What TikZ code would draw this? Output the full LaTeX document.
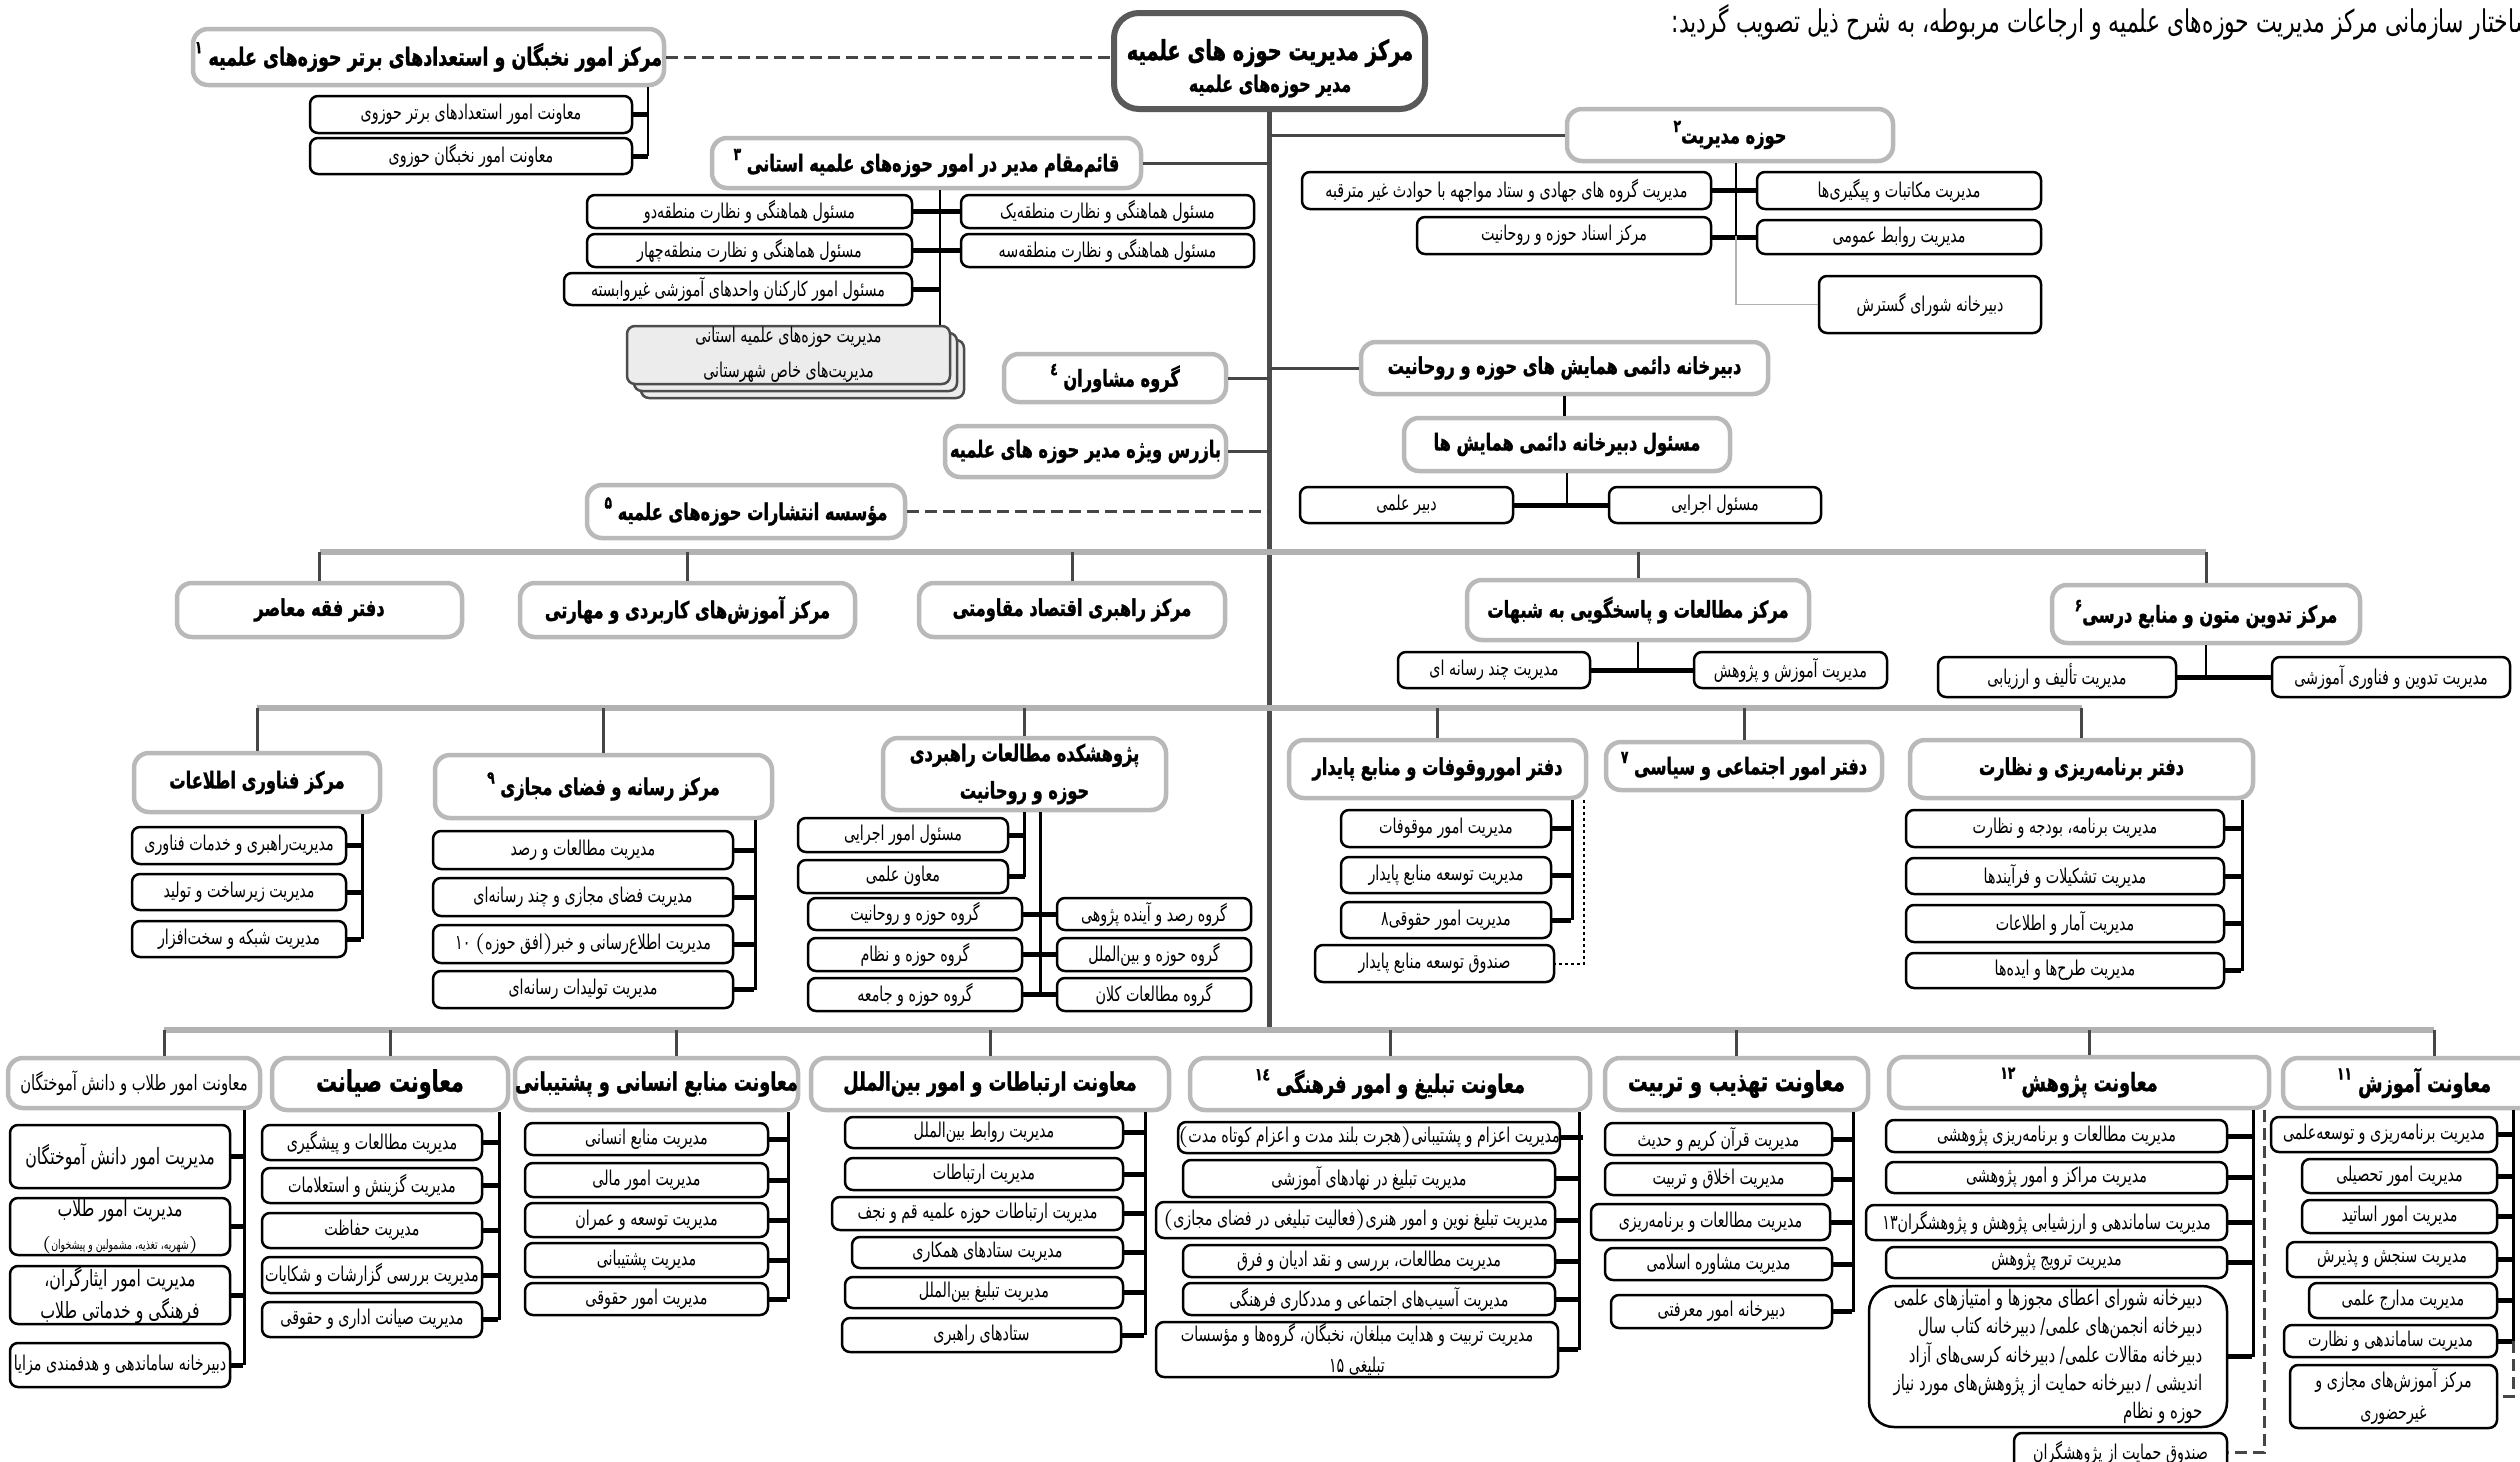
\documentclass[tikz,border=0pt]{standalone}
\usepackage{fontspec}
\newfontfamily\fa[Script=Arabic,FakeStretch=0.7,BoldFeatures={FakeBold=1.2}]{DejaVu Sans}
\TeXXeTstate=1
\newcommand{\rl}[1]{\beginR#1\endR}
\newcommand{\fn}[1]{\raisebox{0.9ex}{\fontsize{5}{5}\selectfont#1}}

\tikzset{
  span/.style args={#1/#2/#3/#4}{minimum width={(#3-#1)*0.1mm}, minimum height={(#4-#2)*0.1mm}, at={({(#1+#3)/2},{(#2+#4)/2})}},
  hub/.style={draw=gray!70!black, line width=0.6mm, rounded corners=2.5mm, fill=white, inner sep=0pt, align=center},
  head/.style={draw=gray!55, line width=0.45mm, rounded corners=1.5mm, fill=white, inner sep=0pt, align=center, font=\fa\bfseries\fontsize{6.6}{7.8}\selectfont},
  head3/.style={head, font=\fa\bfseries\fontsize{7.2}{8.5}\selectfont},
  unit/.style={draw=black, line width=0.25mm, rounded corners=0.8mm, fill=white, inner sep=0pt, align=center, font=\fa\fontsize{5.8}{7}\selectfont},
  stack/.style={unit, fill=gray!15, draw=gray!60!black},
  spine/.style={draw=gray!60!black, line width=0.45mm},
  bar/.style={draw=gray!60, line width=0.6mm},
  stem/.style={draw=gray!55!black, line width=0.3mm},
  bus/.style={draw=black, line width=0.25mm},
  tick/.style={draw=black, line width=0.5mm},
  link/.style={draw=gray!55!black, line width=0.3mm, dash pattern=on 1.2mm off 0.6mm},
  dots/.style={draw=black, line width=0.2mm, dash pattern=on 0.3mm off 0.3mm}
}

\begin{document}
\begin{tikzpicture}[x=0.1mm,y=-0.1mm]
		%%%%% START %%%%%
		\path[use as bounding box, fill=white] (0,0) rectangle (2520,1462);
		\clip (0,0) rectangle (2520,1462);
		
		\node[anchor=east, inner sep=0pt, font=\fa\fontsize{8.9}{10}\selectfont] (title) at (2534,22) {\rl{ساختار سازمانی مرکز مدیریت حوزه‌های علمیه و ارجاعات مربوطه\kern0pt، به شرح ذیل تصویب گردید\kern0pt:}};
		
		\node[hub, span=1114/13/1425/109] (markaz) {};
		\node[inner sep=0pt, font=\fa\bfseries\fontsize{7.9}{9}\selectfont] (markazT1) at (1270,53) {\rl{مرکز مدیریت حوزه های علمیه}};
		\node[inner sep=0pt, font=\fa\bfseries\fontsize{6.5}{8}\selectfont] (markazT2) at (1270,86) {\rl{مدیر حوزه‌های علمیه}};
		
		\coordinate (barA) at (0,552);
		\coordinate (barB) at (0,708);
		\coordinate (barC) at (0,1030);
		\coordinate (busN) at (648,0);
		\coordinate (busH) at (1736,0);
		\coordinate (busQ) at (940,0);
		
		% top left
		\node[head, span=193/29/664/85, font=\fa\bfseries\fontsize{7.1}{8}\selectfont] (nokhbegan) {\rl{مرکز امور نخبگان و استعدادهای برتر حوزه‌های علمیه \fn{۱}}};
		\node[unit, span=310/96/632/133] (estedad) {\rl{معاونت امور استعدادهای برتر حوزوی}};
		\node[unit, span=310/138/632/174] (nokhbHoz) {\rl{معاونت امور نخبگان حوزوی}};
		
		\node[head, span=712/138/1141/188] (qaem) {\rl{قائم‌مقام مدیر در امور حوزه‌های علمیه استانی \fn{۳}}};
		\node[unit, span=961/195/1254/228] (mantaqe1) {\rl{مسئول هماهنگی و نظارت منطقه‌یک}};
		\node[unit, span=961/234/1254/267] (mantaqe3) {\rl{مسئول هماهنگی و نظارت منطقه‌سه}};
		\node[unit, span=587/195/912/228] (mantaqe2) {\rl{مسئول هماهنگی و نظارت منطقه‌دو}};
		\node[unit, span=587/234/912/267] (mantaqe4) {\rl{مسئول هماهنگی و نظارت منطقه‌چهار}};
		\node[unit, span=564/273/912/305] (karkonan) {\rl{مسئول امور کارکنان واحدهای آموزشی غیروابسته}};
		\node[stack, span=641/340/964/398] (ostani3) {};
		\node[stack, span=634/333/957/391] (ostani2) {};
		\node[stack, span=627/326/950/384] (ostani) {\rl{مدیریت حوزه‌های علمیه استانی}\\[1mm]\rl{مدیریت‌های خاص شهرستانی}};
		
		\node[head, span=1004/354/1226/402] (moshaveran) {\rl{گروه مشاوران \fn{٤}}};
		\node[head, span=945/426/1226/477] (bazras) {\rl{بازرس ویژه مدیر حوزه های علمیه}};
		\node[head, span=587/485/905/538] (entesharat) {\rl{مؤسسه انتشارات حوزه‌های علمیه \fn{۵}}};
		
		% top right
		\node[head, span=1567/109/1893/161] (hozeh) {\rl{حوزه مدیریت\fn{۲}}};
		\node[unit, span=1757/172/2041/209] (makatebat) {\rl{مدیریت مکاتبات و پیگیری‌ها}};
		\node[unit, span=1757/220/2041/254] (ravabet) {\rl{مدیریت روابط عمومی}};
		\node[unit, span=1302/172/1711/209] (jahadi) {\rl{مدیریت گروه های جهادی و ستاد مواجهه با حوادث غیر مترقبه}};
		\node[unit, span=1417/217/1711/254] (asnad) {\rl{مرکز اسناد حوزه و روحانیت}};
		\node[unit, span=1819/276/2041/333] (gostaresh) {\rl{دبیرخانه شورای گسترش}};
		
		\node[head, span=1361/342/1768/394] (hamayesh) {\rl{دبیرخانه دائمی همایش های حوزه و روحانیت}};
		\node[head, span=1404/418/1730/471] (masoulHam) {\rl{مسئول دبیرخانه دائمی همایش ها}};
		\node[unit, span=1609/487/1821/523] (ejraei) {\rl{مسئول اجرایی}};
		\node[unit, span=1300/487/1513/523] (dabirElmi) {\rl{دبیر علمی}};
		
		% row one
		\node[head, span=177/583/462/637] (faqh) {\rl{دفتر فقه معاصر}};
		\node[head, span=520/583/855/637] (karbordi) {\rl{مرکز آموزش‌های کاربردی و مهارتی}};
		\node[head, span=919/583/1225/637] (eqtesad) {\rl{مرکز راهبری اقتصاد مقاومتی}};
		\node[head, span=1467/580/1809/640] (shobahat) {\rl{مرکز مطالعات و پاسخگویی به شبهات}};
		\node[unit, span=1398/652/1590/688] (chandRes) {\rl{مدیریت چند رسانه ای}};
		\node[unit, span=1694/652/1887/688] (amuzPaj) {\rl{مدیریت آموزش و پژوهش}};
		\node[head, span=2052/585/2360/643] (tadvin) {\rl{مرکز تدوین متون و منابع درسی\fn{۶}}};
		\node[unit, span=1938/657/2176/697] (talif) {\rl{مدیریت تألیف و ارزیابی}};
		\node[unit, span=2272/657/2510/697] (tadvinFan) {\rl{مدیریت تدوین و فناوری آموزشی}};
		
		% row two
		\node[head, span=134/753/380/812] (fanavari) {\rl{مرکز فناوری اطلاعات}};
		\node[unit, span=132/827/346/864] (fan1) {\rl{مدیریت‌راهبری و خدمات فناوری}};
		\node[unit, span=132/874/346/910] (fan2) {\rl{مدیریت زیرساخت و تولید}};
		\node[unit, span=132/921/346/957] (fan3) {\rl{مدیریت شبکه و سخت‌افزار}};
		
		\node[head, span=435/755/772/818] (resane) {\rl{مرکز رسانه و فضای مجازی \fn{۹}}};
		\node[unit, span=433/831/733/869] (res1) {\rl{مدیریت مطالعات و رصد}};
		\node[unit, span=433/878/733/916] (res2) {\rl{مدیریت فضای مجازی و چند رسانه‌ای}};
		\node[unit, span=433/925/733/963] (res3) {\rl{مدیریت اطلاع‌رسانی و خبر$)$افق حوزه$($ ۱۰}};
		\node[unit, span=433/971/733/1008] (res4) {\rl{مدیریت تولیدات رسانه‌ای}};
		
		\node[head, span=883/738/1166/810] (rahbordi) {\rl{پژوهشکده مطالعات راهبردی}\\[1mm]\rl{حوزه و روحانیت}};
		\node[unit, span=798/818/1008/852] (ejraeiR) {\rl{مسئول امور اجرایی}};
		\node[unit, span=798/860/1008/893] (moavenElmi) {\rl{معاون علمی}};
		\node[unit, span=808/898/1022/930] (grRuh) {\rl{گروه حوزه و روحانیت}};
		\node[unit, span=808/938/1022/971] (grNezam) {\rl{گروه حوزه و نظام}};
		\node[unit, span=808/978/1022/1011] (grJame) {\rl{گروه حوزه و جامعه}};
		\node[unit, span=1057/898/1251/930] (grRasad) {\rl{گروه رصد و آینده پژوهی}};
		\node[unit, span=1057/938/1251/971] (grBeyn) {\rl{گروه حوزه و بین‌الملل}};
		\node[unit, span=1057/978/1251/1011] (grKalan) {\rl{گروه مطالعات کلان}};
		
		\node[head, span=1289/740/1586/798] (moqufat) {\rl{دفتر اموروقوفات و منابع پایدار}};
		\node[unit, span=1341/810/1551/847] (moq1) {\rl{مدیریت امور موقوفات}};
		\node[unit, span=1341/857/1551/893] (moq2) {\rl{مدیریت توسعه منابع پایدار}};
		\node[unit, span=1341/902/1551/938] (moq3) {\rl{مدیریت امور حقوقی۸}};
		\node[unit, span=1315/945/1554/982] (sandoq) {\rl{صندوق توسعه منابع پایدار}};
		
		\node[head, span=1606/742/1882/790] (ejtemai) {\rl{دفتر امور اجتماعی و سیاسی \fn{۷}}};
		
		\node[head, span=1910/740/2253/798] (barname) {\rl{دفتر برنامه‌ریزی و نظارت}};
		\node[unit, span=1906/810/2224/847] (bar1) {\rl{مدیریت برنامه\kern0pt، بودجه و نظارت}};
		\node[unit, span=1906/858/2224/894] (bar2) {\rl{مدیریت تشکیلات و فرآیندها}};
		\node[unit, span=1906/905/2224/942] (bar3) {\rl{مدیریت آمار و اطلاعات}};
		\node[unit, span=1906/953/2224/988] (bar4) {\rl{مدیریت طرح‌ها و ایده‌ها}};
		
		% row three
		\node[head, span=8/1058/260/1108, font=\fa\fontsize{6}{7}\selectfont] (tolab) {\rl{معاونت امور طلاب و دانش آموختگان}};
		\node[unit, span=10/1125/230/1188, font=\fa\fontsize{6.4}{7.5}\selectfont] (tol1) {\rl{مدیریت امور دانش آموختگان}};
		\node[unit, span=10/1198/230/1255, font=\fa\fontsize{6.4}{7.5}\selectfont] (tol2) {\rl{مدیریت امور طلاب}\\[0.6mm]{\fontsize{3.8}{4}\selectfont\rl{$)$شهریه\kern0pt، تغذیه\kern0pt، مشمولین و پیشخوان$($}}};
		\node[unit, span=10/1268/230/1322, font=\fa\fontsize{6.4}{7.5}\selectfont] (tol3) {\rl{مدیریت امور ایثارگران\kern0pt،}\\[0.6mm]\rl{فرهنگی و خدماتی طلاب}};
		\node[unit, span=10/1343/230/1387] (tol4) {\rl{دبیرخانه ساماندهی و هدفمندی مزایا}};
		
		\node[head3, span=272/1058/508/1110, font=\fa\bfseries\fontsize{8.4}{9}\selectfont] (siyanat) {\rl{معاونت صیانت}};
		\node[unit, span=262/1125/482/1160] (siy1) {\rl{مدیریت مطالعات و پیشگیری}};
		\node[unit, span=262/1168/482/1203] (siy2) {\rl{مدیریت گزینش و استعلامات}};
		\node[unit, span=262/1213/482/1248] (siy3) {\rl{مدیریت حفاظت}};
		\node[unit, span=262/1257/482/1293] (siy4) {\rl{مدیریت بررسی گزارشات و شکایات}};
		\node[unit, span=262/1302/482/1337] (siy5) {\rl{مدیریت صیانت اداری و حقوقی}};
		
		\node[head3, span=515/1058/798/1110] (ensani) {\rl{معاونت منابع انسانی و پشتیبانی}};
		\node[unit, span=525/1123/768/1155] (ens1) {\rl{مدیریت منابع انسانی}};
		\node[unit, span=525/1163/768/1197] (ens2) {\rl{مدیریت امور مالی}};
		\node[unit, span=525/1203/768/1237] (ens3) {\rl{مدیریت توسعه و عمران}};
		\node[unit, span=525/1243/768/1277] (ens4) {\rl{مدیریت پشتیبانی}};
		\node[unit, span=525/1283/768/1315] (ens5) {\rl{مدیریت امور حقوقی}};
		
		\node[head3, span=811/1058/1169/1110] (ertebatat) {\rl{معاونت ارتباطات و امور بین‌الملل}};
		\node[unit, span=845/1117/1123/1148] (ert1) {\rl{مدیریت روابط بین‌الملل}};
		\node[unit, span=845/1158/1123/1190] (ert2) {\rl{مدیریت ارتباطات}};
		\node[unit, span=832/1197/1123/1230] (ert3) {\rl{مدیریت ارتباطات حوزه علمیه قم و نجف}};
		\node[unit, span=852/1237/1123/1268] (ert4) {\rl{مدیریت ستادهای همکاری}};
		\node[unit, span=845/1277/1123/1308] (ert5) {\rl{مدیریت تبلیغ بین‌الملل}};
		\node[unit, span=842/1318/1121/1352] (ert6) {\rl{ستادهای راهبری}};
		
		\node[head3, span=1190/1058/1590/1110] (tabligh) {\rl{معاونت تبلیغ و امور فرهنگی \fn{١٤}}};
		\node[unit, span=1183/1122/1555/1153] (tab1) {\rl{مدیریت اعزام و پشتیبانی$)$هجرت بلند مدت و اعزام کوتاه مدت$($}};
		\node[unit, span=1183/1160/1555/1197] (tab2) {\rl{مدیریت تبلیغ در نهادهای آموزشی}};
		\node[unit, span=1156/1202/1555/1238] (tab3) {\rl{مدیریت تبلیغ نوین و امور هنری$)$فعالیت تبلیغی در فضای مجازی$($}};
		\node[unit, span=1183/1245/1555/1277] (tab4) {\rl{مدیریت مطالعات\kern0pt، بررسی و نقد ادیان و فرق}};
		\node[unit, span=1183/1283/1555/1315] (tab5) {\rl{مدیریت آسیب‌های اجتماعی و مددکاری فرهنگی}};
		\node[unit, span=1156/1322/1558/1377] (tab6) {\rl{مدیریت تربیت و هدایت مبلغان\kern0pt، نخبگان\kern0pt، گروه‌ها و مؤسسات}\\[0.6mm]\rl{تبلیغی ۱۵}};
		
		\node[head3, span=1605/1058/1868/1110, font=\fa\bfseries\fontsize{7.9}{9}\selectfont] (tahzib) {\rl{معاونت تهذیب و تربیت}};
		\node[unit, span=1605/1123/1832/1155] (tah1) {\rl{مدیریت قرآن کریم و حدیث}};
		\node[unit, span=1605/1163/1832/1195] (tah2) {\rl{مدیریت اخلاق و تربیت}};
		\node[unit, span=1591/1204/1830/1240] (tah3) {\rl{مدیریت مطالعات و برنامه‌ریزی}};
		\node[unit, span=1605/1248/1832/1280] (tah4) {\rl{مدیریت مشاوره اسلامی}};
		\node[unit, span=1611/1295/1832/1328] (tah5) {\rl{دبیرخانه امور معرفتی}};
		
		\node[head3, span=1889/1057/2269/1108] (pajuhesh) {\rl{معاونت پژوهش \fn{۱۲}}};
		\node[unit, span=1886/1120/2227/1152] (paj1) {\rl{مدیریت مطالعات و برنامه‌ریزی پژوهشی}};
		\node[unit, span=1886/1162/2227/1193] (paj2) {\rl{مدیریت مراکز و امور پژوهشی}};
		\node[unit, span=1866/1205/2227/1240] (paj3) {\rl{مدیریت ساماندهی و ارزشیابی پژوهش و پژوهشگران۱۳}};
		\node[unit, span=1886/1247/2227/1278] (paj4) {\rl{مدیریت ترویج پژوهش}};
		\node[unit, span=1869/1286/2227/1427, rounded corners=2.5mm, align=right, font=\fa\fontsize{6.1}{8}\selectfont] (paj5) {\rl{دبیرخانه شورای اعطای مجوزها و امتیازهای علمی}\\\rl{دبیرخانه انجمن‌های علمی\kern0pt/ دبیرخانه کتاب سال}\\\rl{دبیرخانه مقالات علمی\kern0pt/ دبیرخانه کرسی‌های آزاد}\\\rl{اندیشی / دبیرخانه حمایت از پژوهش‌های مورد نیاز}\\\rl{حوزه و نظام}};
		\node[unit, span=2014/1433/2227/1472] (sandoqPaj) {\rl{صندوق حمایت از پژوهشگران}};
		
		\node[head3, span=2283/1058/2545/1108] (amuzesh) {\rl{معاونت آموزش \fn{۱۱}}};
		\node[unit, span=2271/1117/2497/1152] (amz1) {\rl{مدیریت برنامه‌ریزی و توسعه‌علمی}};
		\node[unit, span=2302/1159/2497/1193] (amz2) {\rl{مدیریت امور تحصیلی}};
		\node[unit, span=2302/1200/2497/1233] (amz3) {\rl{مدیریت امور اساتید}};
		\node[unit, span=2287/1242/2497/1277] (amz4) {\rl{مدیریت سنجش و پذیرش}};
		\node[unit, span=2309/1283/2497/1318] (amz5) {\rl{مدیریت مدارج علمی}};
		\node[unit, span=2284/1325/2497/1357] (amz6) {\rl{مدیریت ساماندهی و نظارت}};
		\node[unit, span=2290/1365/2497/1428] (amz7) {\rl{مرکز آموزش‌های مجازی و}\\[0.8mm]\rl{غیرحضوری}};
		
		% spine and side links
		\draw[spine] (markaz.south) -- (markaz.south |- barC);
		\draw[link] (nokhbegan.east) -- (nokhbegan.east -| markaz.west);
		\draw[stem] (hozeh.west) -- (hozeh.west -| markaz.south);
		\draw[stem] (qaem.east) -- (qaem.east -| markaz.south);
		\draw[stem] (moshaveran.east) -- (moshaveran.east -| markaz.south);
		\draw[stem] (bazras.east) -- (bazras.east -| markaz.south);
		\draw[link] (entesharat.east) -- (entesharat.east -| markaz.south);
		\draw[stem] (hamayesh.west) -- (hamayesh.west -| markaz.south);
		
		% buses of the top boxes
		\draw[bus] (nokhbegan.south -| busN) -- (nokhbHoz.east -| busN);
		\draw[tick] (estedad.east) -- (estedad.east -| busN) (nokhbHoz.east) -- (nokhbHoz.east -| busN);
		\draw[bus] (hozeh.south -| busH) -- (asnad.east -| busH);
		\draw[tick] (makatebat.west) -- (jahadi.east) (ravabet.west) -- (ravabet.west -| asnad.east);
		\draw[draw=gray!60, line width=0.15mm] (asnad.east -| busH) |- (gostaresh.west);
		\draw[bus] (qaem.south -| busQ) -- (ostani.north -| busQ);
		\draw[tick] (mantaqe1.west) -- (mantaqe2.east) (mantaqe3.west) -- (mantaqe4.east) (karkonan.east) -- (karkonan.east -| busQ);
		\draw[bus] (hamayesh.south) -- (hamayesh.south |- masoulHam.north);
		\draw[bus] (masoulHam.south) -- (masoulHam.south |- ejraei.west);
		\draw[tick] (dabirElmi.east) -- (ejraei.west);
		
		% row one
		\draw[bar] (faqh.north |- barA) -- (tadvin.north |- barA);
		\draw[stem] (faqh.north) -- (faqh.north |- barA);
		\draw[stem] (karbordi.north) -- (karbordi.north |- barA);
		\draw[stem] (eqtesad.north) -- (eqtesad.north |- barA);
		\draw[stem] (shobahat.north) -- (shobahat.north |- barA);
		\draw[stem] (tadvin.north) -- (tadvin.north |- barA);
		\draw[bus] (shobahat.south) -- (shobahat.south |- chandRes.east);
		\draw[tick] (chandRes.east) -- (amuzPaj.west);
		\draw[bus] (tadvin.south) -- (tadvin.south |- talif.east);
		\draw[tick] (talif.east) -- (tadvinFan.west);
		
		% row two
		\draw[bar] (fanavari.north |- barB) -- (barname.north |- barB);
		\draw[stem] (fanavari.north) -- (fanavari.north |- barB);
		\draw[stem] (resane.north) -- (resane.north |- barB);
		\draw[stem] (rahbordi.north) -- (rahbordi.north |- barB);
		\draw[stem] (moqufat.north) -- (moqufat.north |- barB);
		\draw[stem] (ejtemai.north) -- (ejtemai.north |- barB);
		\draw[stem] (barname.north) -- (barname.north |- barB);
		\draw[bus] ([xshift=-2mm]fanavari.south east) -- ([xshift=-2mm]fanavari.south east |- fan3.east);
		\draw[tick] (fan1.east) -- ++(1.4mm,0) (fan2.east) -- ++(1.4mm,0) (fan3.east) -- ++(1.4mm,0);
		\draw[bus] ([xshift=-1.9mm]resane.south east) -- ([xshift=-1.9mm]resane.south east |- res4.east);
		\draw[tick] (res1.east) -- ++(2mm,0) (res2.east) -- ++(2mm,0) (res3.east) -- ++(2mm,0) (res4.east) -- ++(2mm,0);
		\draw[bus] (rahbordi.south) -- (rahbordi.south |- moavenElmi.east);
		\draw[tick] (ejraeiR.east) -- (ejraeiR.east -| rahbordi.south) (moavenElmi.east) -- (moavenElmi.east -| rahbordi.south);
		\draw[bus] ([xshift=1.6mm]rahbordi.south) -- ([xshift=1.6mm]rahbordi.south |- grJame.east);
		\draw[tick] (grRuh.east) -- (grRasad.west) (grNezam.east) -- (grBeyn.west) (grJame.east) -- (grKalan.west);
		\draw[bus] ([xshift=-1.6mm]moqufat.south east) -- ([xshift=-1.6mm]moqufat.south east |- moq3.east);
		\draw[tick] (moq1.east) -- ++(1.9mm,0) (moq2.east) -- ++(1.9mm,0) (moq3.east) -- ++(1.9mm,0);
		\draw[dots] ([xshift=-0.4mm]moqufat.south east) |- (sandoq.east);
		\draw[bus] ([xshift=-1.3mm]barname.south east) -- ([xshift=-1.3mm]barname.south east |- bar4.east);
		\draw[tick] (bar1.east) -- ++(1.6mm,0) (bar2.east) -- ++(1.6mm,0) (bar3.east) -- ++(1.6mm,0) (bar4.east) -- ++(1.6mm,0);
		
		% row three
		\draw[bar] ([xshift=3mm]tolab.north |- barC) -- ([xshift=2mm]amuzesh.north |- barC);
		\draw[stem] ([xshift=3mm]tolab.north) -- ([xshift=3mm]tolab.north |- barC);
		\draw[stem] (siyanat.north) -- (siyanat.north |- barC);
		\draw[stem] ([xshift=2mm]ensani.north) -- ([xshift=2mm]ensani.north |- barC);
		\draw[stem] (ertebatat.north) -- (ertebatat.north |- barC);
		\draw[stem] (tabligh.north) -- (tabligh.north |- barC);
		\draw[stem] (tahzib.north) -- (tahzib.north |- barC);
		\draw[stem] ([xshift=1mm]pajuhesh.north) -- ([xshift=1mm]pajuhesh.north |- barC);
		\draw[stem] ([xshift=2mm]amuzesh.north) -- ([xshift=2mm]amuzesh.north |- barC);
		
		\draw[bus] ([xshift=-1.8mm]tolab.south east) -- ([xshift=-1.8mm]tolab.south east |- tol4.east);
		\draw[tick] (tol1.east) -- ++(1.2mm,0) (tol2.east) -- ++(1.2mm,0) (tol3.east) -- ++(1.2mm,0) (tol4.east) -- ++(1.2mm,0);
		\draw[bus] ([xshift=-1.1mm]siyanat.south east) -- ([xshift=-1.1mm]siyanat.south east |- siy5.east);
		\draw[tick] (siy1.east) -- ++(1.5mm,0) (siy2.east) -- ++(1.5mm,0) (siy3.east) -- ++(1.5mm,0) (siy4.east) -- ++(1.5mm,0) (siy5.east) -- ++(1.5mm,0);
		\draw[bus] ([xshift=-1.2mm]ensani.south east) -- ([xshift=-1.2mm]ensani.south east |- ens5.east);
		\draw[tick] (ens1.east) -- ++(1.8mm,0) (ens2.east) -- ++(1.8mm,0) (ens3.east) -- ++(1.8mm,0) (ens4.east) -- ++(1.8mm,0) (ens5.east) -- ++(1.8mm,0);
		\draw[bus] ([xshift=-2.6mm]ertebatat.south east) -- ([xshift=-2.6mm]ertebatat.south east |- ert6.east);
		\draw[tick] (ert1.east) -- ++(2mm,0) (ert2.east) -- ++(2mm,0) (ert3.east) -- ++(2mm,0) (ert4.east) -- ++(2mm,0) (ert5.east) -- ++(2mm,0) (ert6.east) -- ++(2.2mm,0);
		\draw[bus] ([xshift=-1.3mm]tabligh.south east) -- ([xshift=-1.3mm]tabligh.south east |- tab6.east);
		\draw[tick] (tab1.east) -- ++(2.2mm,0) (tab2.east) -- ++(2.2mm,0) (tab3.east) -- ++(2.2mm,0) (tab4.east) -- ++(2.2mm,0) (tab5.east) -- ++(2.2mm,0) (tab6.east) -- ++(1.9mm,0);
		\draw[bus] ([xshift=-1.7mm]tahzib.south east) -- ([xshift=-1.7mm]tahzib.south east |- tah5.east);
		\draw[tick] (tah1.east) -- ++(1.9mm,0) (tah2.east) -- ++(1.9mm,0) (tah3.east) -- ++(2.1mm,0) (tah4.east) -- ++(1.9mm,0) (tah5.east) -- ++(1.9mm,0);
		\draw[bus] ([xshift=-1.8mm]pajuhesh.south east) -- ([xshift=-1.8mm]pajuhesh.south east |- paj5.east);
		\draw[tick] (paj1.east) -- ++(2.4mm,0) (paj2.east) -- ++(2.4mm,0) (paj3.east) -- ++(2.4mm,0) (paj4.east) -- ++(2.4mm,0) (paj5.east) -- ++(2.4mm,0);
		\draw[link] ([xshift=-0.7mm]pajuhesh.south east) |- (sandoqPaj.east);
		\draw[bus] (amuzesh.south -| amz6.east) ++(1.5mm,0) -- ([xshift=1.5mm]amz6.east);
		\draw[tick] (amz1.east) -- ++(1.5mm,0) (amz2.east) -- ++(1.5mm,0) (amz3.east) -- ++(1.5mm,0) (amz4.east) -- ++(1.5mm,0) (amz5.east) -- ++(1.5mm,0) (amz6.east) -- ++(1.5mm,0);
		\draw[link] ([xshift=1.5mm]amz6.east) |- (amz7.east);
		%%%%% END %%%%%
\end{tikzpicture}
\end{document}
